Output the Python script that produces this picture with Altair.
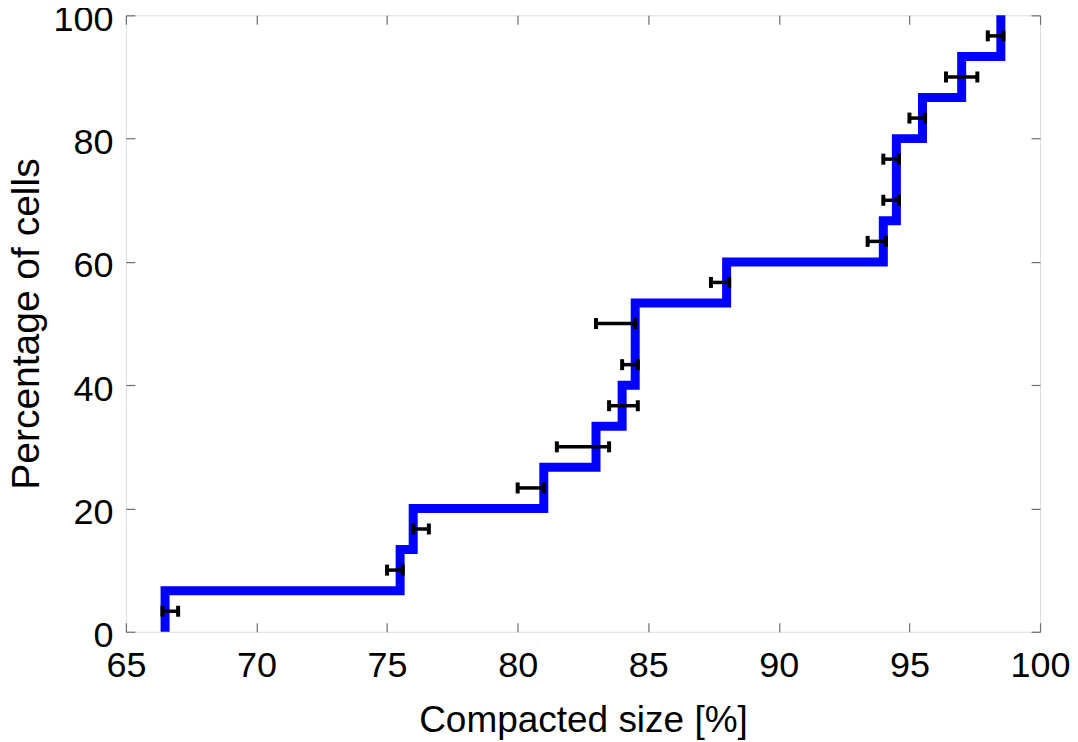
import altair as alt
import pandas as pd

# Step CDF vertices (x = compacted size %, y = cumulative percentage of cells)
step_x = [66.5, 66.5, 75.5, 76.0, 81.0, 83.0, 84.0, 84.5, 84.5, 88.0, 94.0, 94.5, 94.5, 95.5, 97.0, 98.5]
step_y = [0.0, 6.67, 13.33, 20.0, 26.67, 33.33, 40.0, 46.67, 53.33, 60.0, 66.67, 73.33, 80.0, 86.67, 93.33, 100.0]

# Horizontal error bars (one per cell)
err_y = [3.33, 10.0, 16.67, 23.33, 30.0, 36.67, 43.33, 50.0, 56.67, 63.33, 70.0, 76.67, 83.33, 90.0, 96.67]
err_lo = [66.4, 75.0, 76.0, 80.0, 81.5, 83.5, 84.0, 83.0, 87.4, 93.4, 94.0, 94.0, 95.0, 96.4, 98.0]
err_hi = [67.0, 75.6, 76.6, 81.0, 83.5, 84.6, 84.6, 84.5, 88.1, 94.1, 94.6, 94.6, 95.6, 97.6, 98.6]

x_ticks = [65, 70, 75, 80, 85, 90, 95, 100]
y_ticks = [0, 20, 40, 60, 80, 100]

FONT = "Liberation Sans"
GRAY = "#6e6e6e"

line_df = pd.DataFrame({"x": step_x, "y": step_y, "order": list(range(len(step_x)))})
err_df = pd.DataFrame({"y": err_y, "lo": err_lo, "hi": err_hi})

xscale = alt.Scale(domain=[65, 100], nice=False, zero=False)
yscale = alt.Scale(domain=[0, 100], nice=False, zero=False)

common_axis = dict(domain=False, grid=False, ticks=True, tickSize=9, offset=-9,
                   tickColor=GRAY, tickWidth=1.2, labelFont=FONT, labelColor="black",
                   titleFont=FONT, titleColor="black", titleFontWeight="normal",
                   labelFlush=False, labelOverlap=False)

bottom_axis = alt.Axis(orient="bottom", values=x_ticks, title="Compacted size [%]",
                       labelPadding=17, labelFontSize=36, titleFontSize=37, titlePadding=19,
                       **common_axis)
left_axis = alt.Axis(orient="left", values=y_ticks, title="Percentage of cells",
                     labelPadding=13, labelFontSize=36, labelOffset=4,
                     titleFontSize=39, titlePadding=6,
                     **common_axis)
top_axis = alt.Axis(orient="top", values=x_ticks, title="", labels=False, **common_axis)
right_axis = alt.Axis(orient="right", values=y_ticks, title="", labels=False, **common_axis)

line = alt.Chart(line_df).mark_line(
    interpolate="step-after", color="#0000ff", strokeWidth=9,
    strokeJoin="miter", strokeCap="butt"
).encode(
    x=alt.X("x:Q", scale=xscale, axis=bottom_axis),
    y=alt.Y("y:Q", scale=yscale, axis=left_axis),
    order="order:Q",
)

bars = alt.Chart(err_df).mark_rule(color="black", strokeWidth=3.5).encode(
    x=alt.X("lo:Q", scale=xscale, axis=top_axis),
    x2="hi:Q",
    y=alt.Y("y:Q", scale=yscale, axis=right_axis),
)

caps = alt.Chart(err_df).transform_fold(["lo", "hi"], as_=["end", "val"]).mark_tick(
    orient="vertical", color="black", thickness=4, size=11, opacity=1
).encode(
    x=alt.X("val:Q", scale=xscale, axis=None),
    y=alt.Y("y:Q", scale=yscale, axis=None),
)

chart = alt.layer(line, bars, caps).properties(
    width=915, height=617,
    padding={"left": 118, "top": 7, "right": 30, "bottom": 110},
    autosize=alt.AutoSizeParams(type="none"),
).configure_view(stroke=GRAY, strokeWidth=1.2).configure(background="white")

chart.save("out.html", embed_options={"renderer": "svg", "actions": False})
